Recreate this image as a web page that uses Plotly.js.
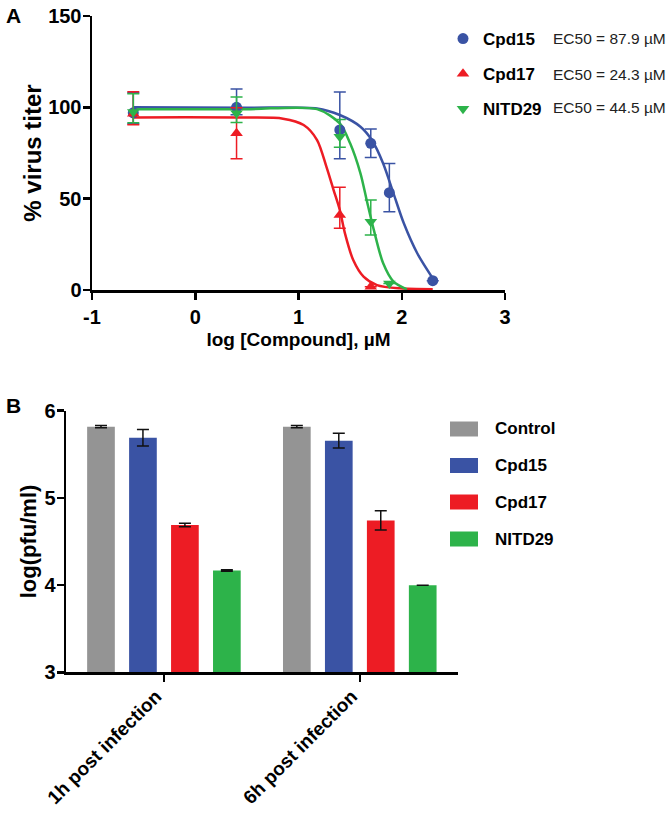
<!DOCTYPE html>
<html>
<head>
<meta charset="utf-8">
<script src="https://cdn.plot.ly/plotly-3.0.1.min.js"></script>
<style>
  html, body { margin: 0; padding: 0; background: #fff; }
  #chart { width: 666px; height: 814px; }
</style>
</head>
<body>
<div id="chart"></div>
<script>
// ---- panel A: dose response (log uM) ----
const doseLog = [-0.6, 0.4, 1.4, 1.7, 1.88, 2.3];

const cpd15Y  = [97, 100, 87.6, 80.3, 53.3, 5.1];
const cpd15Up = [11, 10, 20.8, 7.8, 16, 0];
const cpd15Dn = [6, 4, 15.7, 7.8, 10.4, 0];

const cpd17Y  = [96.5, 85.8, 41, 1.8, -1.8, -4];
const cpd17Up = [12, 14, 15.2, 0, 0, 0];
const cpd17Dn = [6, 14, 7.2, 0, 0, 0];

const nitdY  = [97.5, 96.7, 83.9, 37.4, 3.6, -2.7];
const nitdUp = [10, 9, 9.5, 11.9, 0, 0];
const nitdDn = [6, 5, 5.8, 7.3, 0, 0];

// fitted curves
const fit15X = [-0.6, 0.5, 1.18, 1.4, 1.6, 1.71, 1.82, 1.92, 2.02, 2.15, 2.3];
const fit15Y = [100, 99.8, 99.4, 95.8, 89.4, 82.1, 69.3, 52.9, 36.5, 20.1, 6.4];
const fit17X = [-0.6, 0.5, 0.85, 1.05, 1.18, 1.27, 1.34, 1.4, 1.45, 1.53, 1.63, 1.76, 1.98, 2.3];
const fit17Y = [94.5, 94.4, 93.8, 90.3, 82.1, 67.5, 54.7, 43.8, 31, 16.4, 7.3, 2.7, 0.9, 0.4];
const fitNX  = [-0.6, 0.5, 1.18, 1.4, 1.5, 1.6, 1.66, 1.73, 1.82, 1.92, 2.05];
const fitNY  = [99, 99, 99, 91.2, 80.3, 63.9, 49.3, 32.8, 14.6, 4.6, 0.4];

const compounds = ['Cpd15', 'Cpd17', 'NITD29'];
const ec50Text  = ['EC50 = 87.9 \u00B5M', 'EC50 = 24.3 \u00B5M', 'EC50 = 44.5 \u00B5M'];
const xTicksA = [-1, 0, 1, 2, 3];
const yTicksA = [0, 50, 100, 150];

// ---- panel B: titres ----
const timepoints = ['1h post infection', '6h post infection'];
const barNames   = ['Control', 'Cpd15', 'Cpd17', 'NITD29'];
const controlV = [5.817, 5.817];  const controlE = [0.012, 0.012];
const cpd15V   = [5.69, 5.656];   const cpd15E   = [0.094, 0.084];
const cpd17V   = [4.69, 4.742];   const cpd17E   = [0.02, 0.11];
const nitdV    = [4.168, 3.997];  const nitdE    = [0.008, 0];
const yTicksB = [3, 4, 5, 6];

const BLUE = '#3A53A4', RED = '#ED1C24', GREEN = '#2DB34A', GRAY = '#949494';
const FONT = 'Liberation Sans, Arial, sans-serif';

function pointTrace(name, y, up, dn, color, symbol) {
  return {
    x: doseLog, y: y, name: '<b>' + name + '</b>', legendgroup: name,
    mode: 'markers', type: 'scatter', xaxis: 'x', yaxis: 'y', cliponaxis: false,
    marker: { color: color, size: 11, symbol: symbol },
    error_y: { type: 'data', symmetric: false, array: up, arrayminus: dn,
               color: color, thickness: 1.5, width: 6 }
  };
}
function fitTrace(x, y, color) {
  return { x: x, y: y, mode: 'lines', type: 'scatter', xaxis: 'x', yaxis: 'y',
           showlegend: false, hoverinfo: 'skip',
           line: { color: color, width: 2.5, shape: 'spline', smoothing: 0.8 } };
}
function barTrace(name, v, e, color) {
  return { x: timepoints, y: v, name: name, type: 'bar', xaxis: 'x2', yaxis: 'y2',
           showlegend: false, marker: { color: color },
           error_y: { type: 'data', array: e, color: '#111', thickness: 1.5, width: 6 } };
}

const data = [
  fitTrace(fit15X, fit15Y, BLUE),
  fitTrace(fit17X, fit17Y, RED),
  fitTrace(fitNX, fitNY, GREEN),
  pointTrace(compounds[0], cpd15Y, cpd15Up, cpd15Dn, BLUE, 'circle'),
  pointTrace(compounds[1], cpd17Y, cpd17Up, cpd17Dn, RED, 'triangle-up'),
  pointTrace(compounds[2], nitdY, nitdUp, nitdDn, GREEN, 'triangle-down'),
  barTrace(barNames[0], controlV, controlE, GRAY),
  barTrace(barNames[1], cpd15V, cpd15E, BLUE),
  barTrace(barNames[2], cpd17V, cpd17E, RED),
  barTrace(barNames[3], nitdV, nitdE, GREEN)
];

const boldTicks = v => v.map(t => '<b>' + t + '</b>');

const axisStyle = {
  showline: true, linecolor: '#000', linewidth: 2.5, showgrid: false, zeroline: false,
  ticks: 'outside', ticklen: 7, tickwidth: 2.5, tickcolor: '#000',
  tickfont: { family: FONT, size: 20, color: '#000', weight: 700 }
};

// px -> paper helpers
const W = 666, H = 814;
const px = v => v / W, py = v => 1 - v / H;

const annotations = [
  { text: '<b>A</b>', x: px(4), y: py(2), xref: 'paper', yref: 'paper', xanchor: 'left', yanchor: 'top',
    showarrow: false, font: { family: FONT, size: 21, color: '#000' } },
  { text: '<b>B</b>', x: px(4), y: py(392), xref: 'paper', yref: 'paper', xanchor: 'left', yanchor: 'top',
    showarrow: false, font: { family: FONT, size: 21, color: '#000' } }
];
const ecRows = [38.3, 74, 108];
ec50Text.forEach((t, i) => annotations.push({
  text: t, x: px(551), y: py(ecRows[i]), xref: 'paper', yref: 'paper', xanchor: 'left', yanchor: 'middle',
  showarrow: false, font: { family: FONT, size: 15.5, color: '#222' }
}));

// legend for panel B drawn by hand (wide swatches)
const barColors = [GRAY, BLUE, RED, GREEN];
const legRows = [429, 465.5, 502, 539];
const shapes = [];
barNames.forEach((n, i) => {
  shapes.push({ type: 'rect', xref: 'paper', yref: 'paper', x0: px(450), x1: px(478),
                y0: py(legRows[i] + 7.5), y1: py(legRows[i] - 7.5),
                fillcolor: barColors[i], line: { width: 0 } });
  annotations.push({ text: '<b>' + n + '</b>', x: px(493), y: py(legRows[i]), xref: 'paper', yref: 'paper',
                     xanchor: 'left', yanchor: 'middle', showarrow: false,
                     font: { family: FONT, size: 17, color: '#000' } });
});

const layout = {
  width: W, height: H,
  margin: { l: 0, r: 0, t: 0, b: 0 },
  paper_bgcolor: '#fff', plot_bgcolor: '#fff',
  font: { family: FONT, color: '#000' },
  showlegend: true,
  legend: { x: px(443), y: py(21), xanchor: 'left', yanchor: 'top', traceorder: 'grouped',
            tracegroupgap: 10, bgcolor: 'rgba(0,0,0,0)',
            font: { family: FONT, size: 17, color: '#000' } },
  xaxis: Object.assign({}, axisStyle, {
    domain: [px(92), px(505)], anchor: 'y', range: [-1, 3],
    tickvals: xTicksA, ticktext: boldTicks(xTicksA),
    title: { text: '<b>log [Compound], \u00B5M</b>', font: { family: FONT, size: 19 }, standoff: 6 }
  }),
  yaxis: Object.assign({}, axisStyle, {
    domain: [py(290), py(16)], anchor: 'x', range: [0, 150],
    tickvals: yTicksA, ticktext: boldTicks(yTicksA), ticklabelstandoff: -3,
    title: { text: '<b>% virus titer</b>', font: { family: FONT, size: 24 }, standoff: 0 }
  }),
  xaxis2: Object.assign({}, axisStyle, {
    domain: [px(66), px(457.7)], anchor: 'y2', type: 'category', range: [-0.5, 1.5],
    tickvals: timepoints, ticktext: boldTicks(timepoints),
    tickangle: -45, ticklabelshift: -8, ticklabelstandoff: -4,
    tickfont: { family: FONT, size: 19, color: '#000', weight: 700 }
  }),
  yaxis2: Object.assign({}, axisStyle, {
    domain: [py(672.3), py(410.7)], anchor: 'x2', range: [3, 6],
    tickvals: yTicksB, ticktext: boldTicks(yTicksB), ticklabelstandoff: -3,
    title: { text: '<b>log(pfu/ml)</b>', font: { family: FONT, size: 22 }, standoff: 2 }
  }),
  barmode: 'group', bargap: 0.143, bargroupgap: 0.34,
  annotations: annotations,
  shapes: shapes
};

Plotly.newPlot('chart', data, layout, { displayModeBar: false, staticPlot: true });
</script>
</body>
</html>
